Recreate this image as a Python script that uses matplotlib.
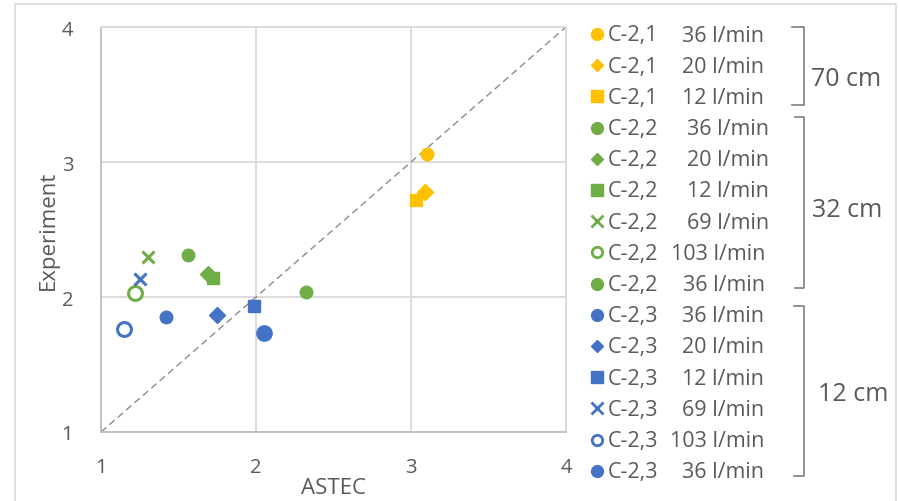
import matplotlib.pyplot as plt
from matplotlib.patches import Rectangle

## data
cases = ["C-2,1", "C-2,1", "C-2,1",
         "C-2,2", "C-2,2", "C-2,2", "C-2,2", "C-2,2", "C-2,2",
         "C-2,3", "C-2,3", "C-2,3", "C-2,3", "C-2,3", "C-2,3"]
flows = ["36 l/min", "20 l/min", "12 l/min",
         "36 l/min", "20 l/min", "12 l/min", "69 l/min", "103 l/min", "36 l/min",
         "36 l/min", "20 l/min", "12 l/min", "69 l/min", "103 l/min", "36 l/min"]
astec = [3.10, 3.09, 3.03,
         1.56, 1.69, 1.72, 1.30, 1.22, 2.32,
         1.42, 1.75, 1.99, 1.25, 1.15, 2.05]
experiment = [3.06, 2.78, 2.72,
              2.31, 2.17, 2.14, 2.30, 2.03, 2.04,
              1.85, 1.87, 1.93, 2.13, 1.76, 1.73]
groups = ["70 cm", "32 cm", "12 cm"]

## styles
yellow, green, blue = "#FFC000", "#70AD47", "#4472C4"
colors = [yellow]*3 + [green]*6 + [blue]*6
markers = ["o", "D", "s", "o", "D", "s", "x", "o", "o",
           "o", "D", "s", "x", "o", "o"]
filled = [True]*7 + [False, True] + [True]*4 + [False, True]
sizes = [9, 8, 9, 9, 8, 9, 9, 10, 9, 9, 8, 9, 9, 10, 11]
flow_right = [764]*3 + [769]*4 + [765]*2 + [764]*6   # right edge of the flow text, px
brackets = [(28, 106, 792), (118, 289, 795), (307, 477, 794)]   # top, bottom, left x (px)
group_xy = [(846, 80), (847, 211), (853, 395)]
txt = "#595959"
font = "Open Sans"

fig = plt.figure(figsize=(8.99, 5.02), dpi=100)
W, H = 899, 502

# outer frame
fig.patches.append(Rectangle((15/W, -0.1), (896-15)/W, 1.1 - 5/H, transform=fig.transFigure,
                             fill=False, edgecolor="#d9d9d9", lw=1.2))

ax = fig.add_axes([101/W, 1-433/H, (566-101)/W, (433-28)/H])
ax.set_xlim(1, 4)
ax.set_ylim(1, 4)
ax.set_xticks([1, 2, 3, 4])
ax.set_yticks([1, 2, 3, 4])
ax.grid(True, color="#d9d9d9", lw=1.3)
ax.set_axisbelow(True)
for s in ax.spines.values():
	s.set_color("#d9d9d9")
	s.set_linewidth(1.3)
ax.spines["left"].set_color("#bfbfbf")
ax.spines["bottom"].set_color("#bfbfbf")
ax.tick_params(axis="x", length=0, labelsize=14.5, labelcolor=txt, pad=18)
ax.tick_params(axis="y", length=0, labelsize=14.5, labelcolor=txt, pad=20)
for lab in ax.get_xticklabels() + ax.get_yticklabels():
	lab.set_fontfamily(font)
ax.set_xlabel("ASTEC", fontsize=16, color=txt, family=font, labelpad=0)
ax.set_ylabel("Experiment", fontsize=16, color=txt, family=font, labelpad=2)

ax.plot([1, 4], [1, 4], ls=(0, (5, 3)), color="#8c8c8c", lw=1, zorder=1)

for x, y, c, m, f, s in zip(astec, experiment, colors, markers, filled, sizes):
	if m == "x":
		ax.plot(x, y, marker=m, ms=s, color=c, mew=2.2, ls="none", zorder=3)
	elif f:
		ax.plot(x, y, marker=m, ms=s, color=c, mec=c, ls="none", zorder=3)
	else:
		ax.plot(x, y, marker=m, ms=s, mfc="white", mec=c, mew=2.2, ls="none", zorder=3)

## legend drawn in pixel coordinates
lax = fig.add_axes([0, 0, 1, 1])
lax.set_xlim(0, W)
lax.set_ylim(H, 0)
lax.axis("off")
row_y0, row_dy = 35, 31.2
for i, (case, flow, c, m, f) in enumerate(zip(cases, flows, colors, markers, filled)):
	y = row_y0 + i*row_dy
	ms = 6.5 if m == "D" else 8.5
	if m == "x":
		lax.plot(597, y, marker=m, ms=8.5, color=c, mew=2, ls="none")
	elif f:
		lax.plot(597, y, marker=m, ms=ms, color=c, ls="none")
	else:
		lax.plot(597, y, marker=m, ms=7.5, mfc="white", mec=c, mew=2, ls="none")
	lax.text(608, y + 1, case, fontsize=15.5, color=txt, family=font, va="center", ha="left")
	lax.text(flow_right[i], y + 1, flow, fontsize=15.5, color=txt, family=font, va="center", ha="right")

for g, (y1, y2, x0), (gx, gy) in zip(groups, brackets, group_xy):
	lax.plot([x0, 804, 804, x0], [y1, y1, y2, y2], color="#7f7f7f", lw=1.2)
	lax.text(gx, gy, g, fontsize=18, color=txt, family=font, va="center", ha="center")

fig.savefig("out.png", dpi=100)
